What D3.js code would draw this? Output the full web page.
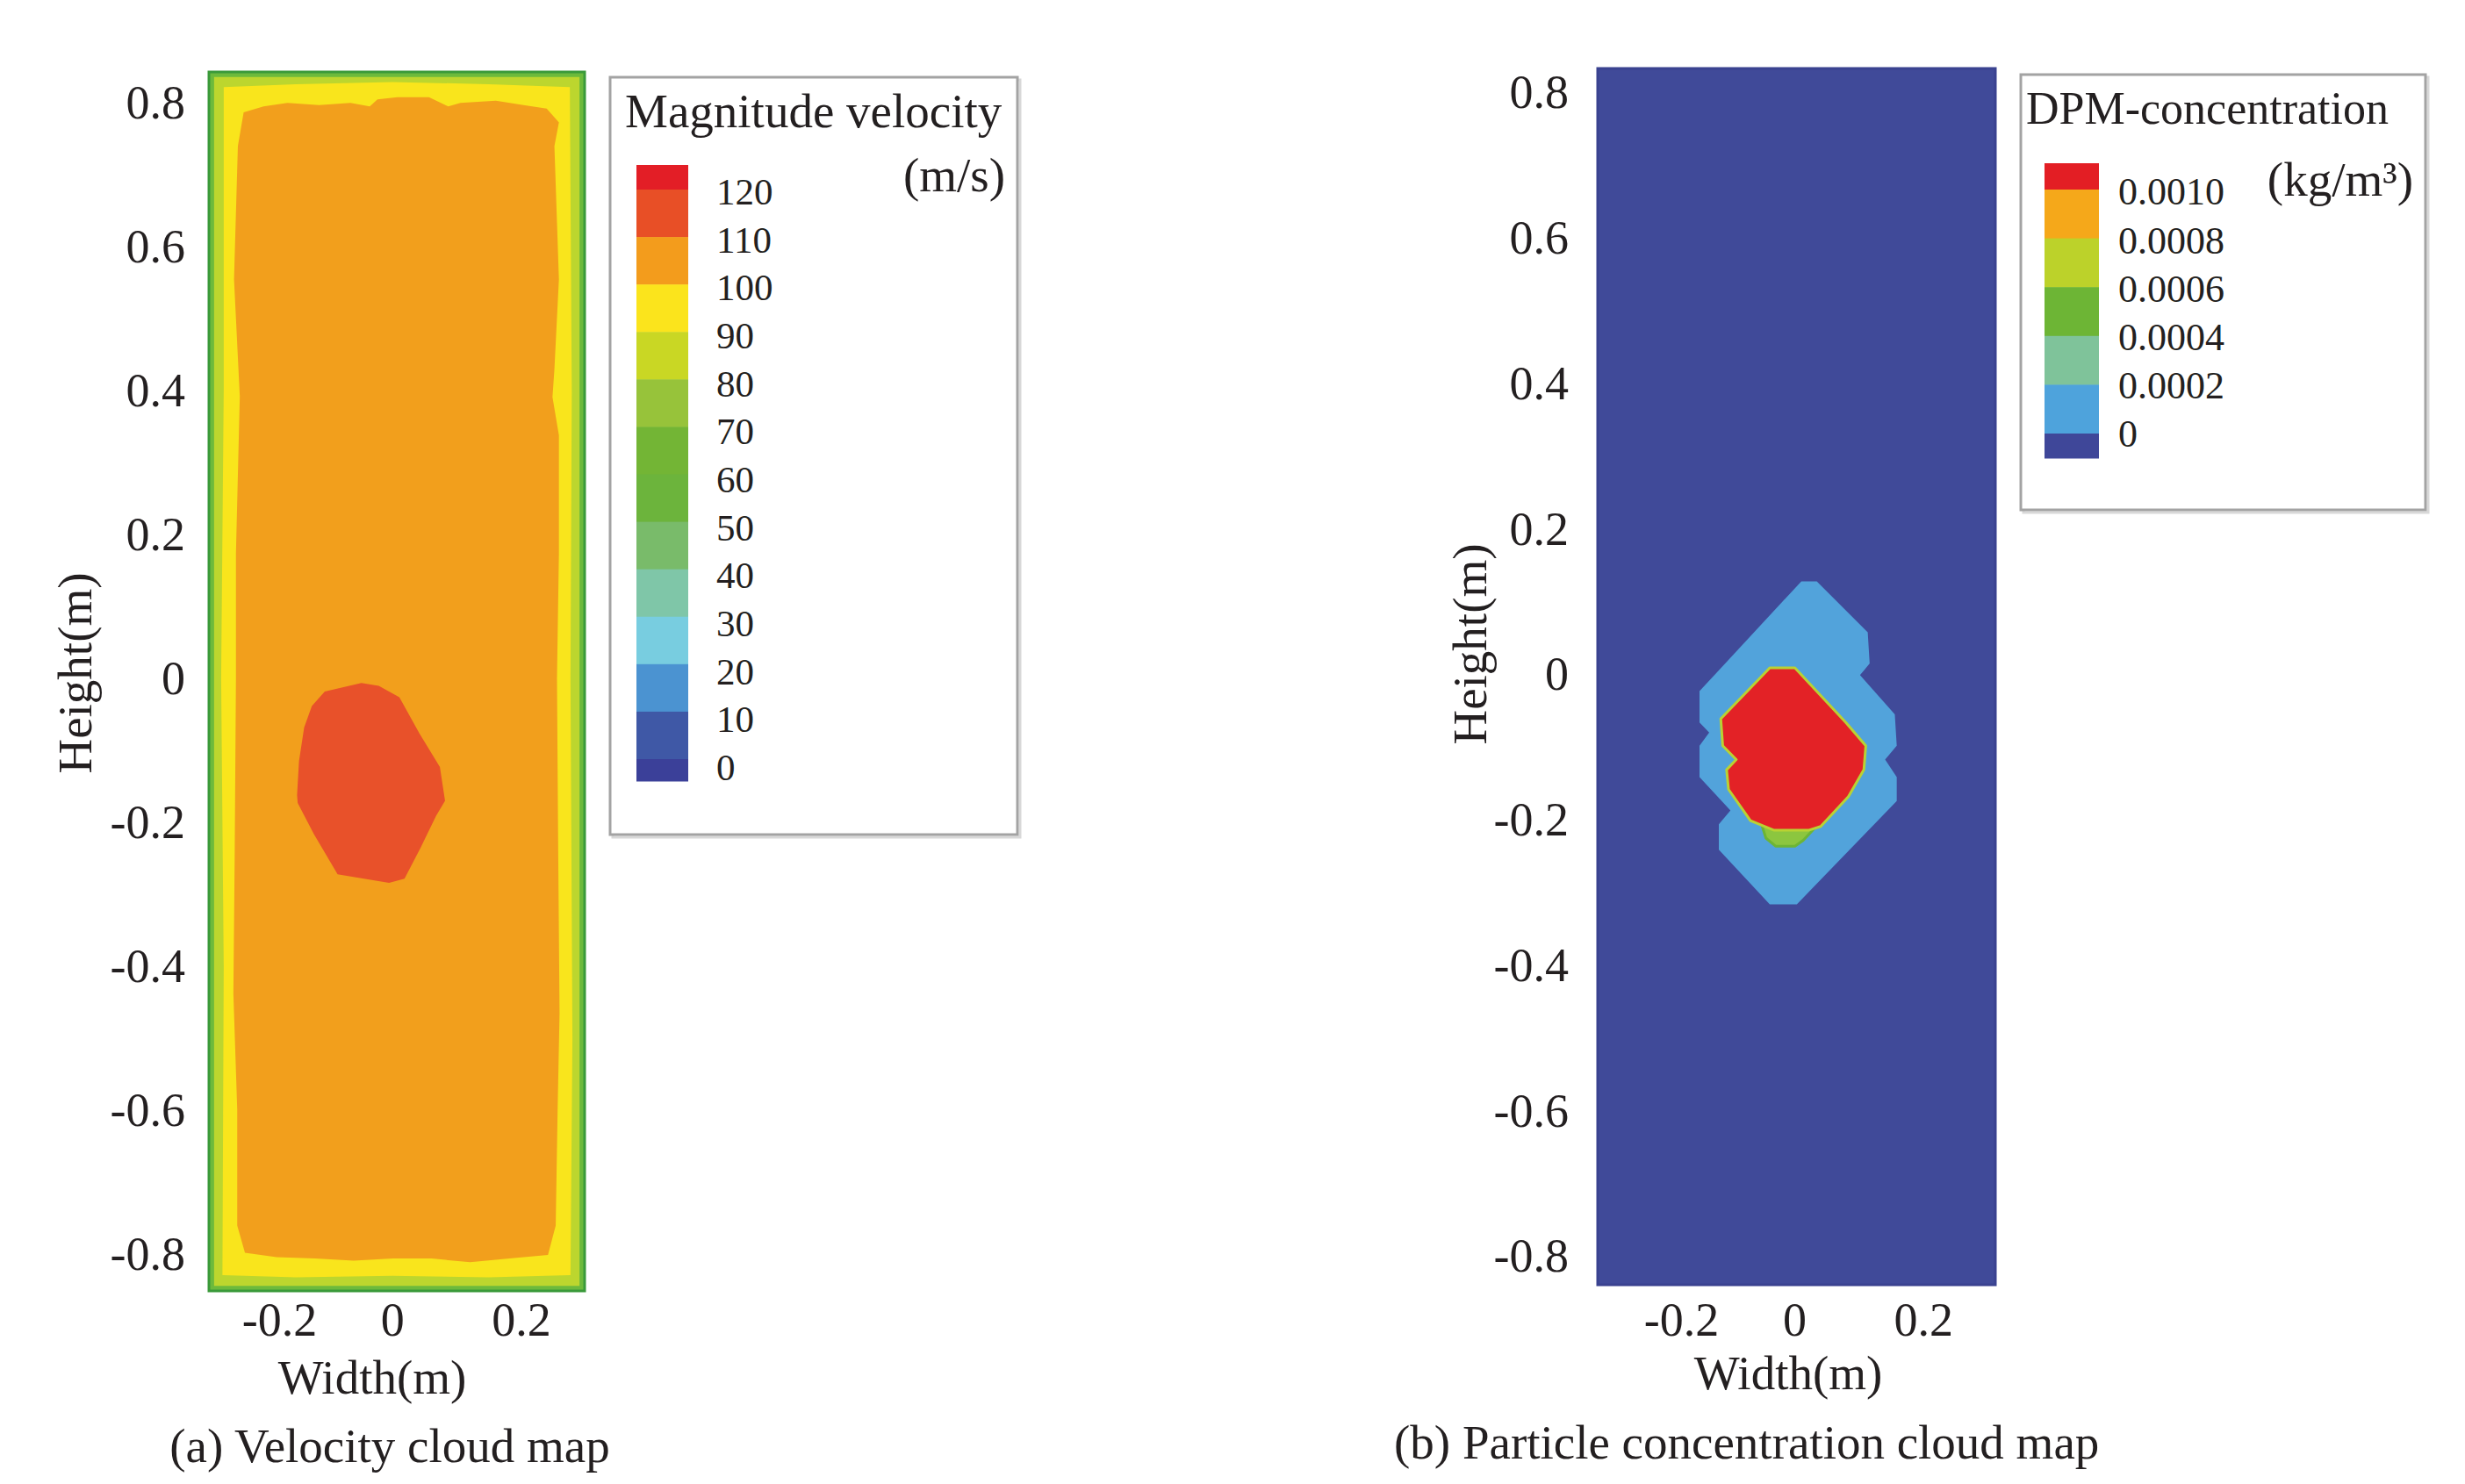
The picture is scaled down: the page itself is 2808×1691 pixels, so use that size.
<!DOCTYPE html>
<html>
<head>
<meta charset="utf-8">
<script src="https://cdn.jsdelivr.net/npm/d3@7"></script>
<style>
  body { margin: 0; background: #fff; }
  svg text { font-family: "Liberation Serif", "Times New Roman", serif; fill: #231f20; }
</style>
</head>
<body>
<div id="chart"></div>
<script>
// ---- data ----
var xTicks = [-0.2, 0, 0.2];
var yTicks = [0.8, 0.6, 0.4, 0.2, 0, -0.2, -0.4, -0.6, -0.8];

// velocity legend (top -> bottom)
var velocityLabels = [120, 110, 100, 90, 80, 70, 60, 50, 40, 30, 20, 10, 0];
var velocityColors = ["#e31e26", "#e84f26", "#f39c1c", "#fbe41c", "#c9d724", "#97c33a", "#73b535",
                      "#6cb43c", "#79bb6a", "#7fc6a8", "#78cde0", "#4b93d1", "#3f58a6", "#3b4099"];

// concentration legend (top -> bottom)
var concLabels = ["0.0010", "0.0008", "0.0006", "0.0004", "0.0002", "0"];
var concColors = ["#e31e24", "#f5a81a", "#bcd22a", "#6db535", "#7fc39a", "#4ea3dc", "#3f4799"];

// velocity field contours [width, height] in m
var velocityGreen = [[-0.277, 0.836], [0.291, 0.836], [0.291, -0.844], [-0.277, -0.844]];
var velocityYellow = [[-0.262, 0.822], [-0.15, 0.826], [0, 0.829], [0.15, 0.826], [0.276, 0.822],
    [0.279, 0.4], [0.277, 0.0], [0.280, -0.5], [0.277, -0.829], [0.15, -0.832], [0, -0.830],
    [-0.15, -0.832], [-0.264, -0.829], [-0.262, -0.4], [-0.266, 0.0], [-0.262, 0.4]];
var velocityCore = [[-0.231, 0.787], [-0.200, 0.795], [-0.163, 0.800], [-0.114, 0.797], [-0.065, 0.800],
    [-0.035, 0.795], [-0.023, 0.805], [0.008, 0.808], [0.057, 0.808], [0.087, 0.795], [0.106, 0.800],
    [0.161, 0.803], [0.204, 0.797], [0.240, 0.792], [0.259, 0.773],
    [0.252, 0.740], [0.259, 0.555], [0.252, 0.430], [0.249, 0.391], [0.259, 0.338], [0.259, 0.174],
    [0.256, 0.0], [0.258, -0.25], [0.260, -0.465], [0.257, -0.599], [0.254, -0.760], [0.242, -0.801],
    [0.182, -0.806], [0.121, -0.811], [0.061, -0.806], [0.001, -0.806], [-0.060, -0.809],
    [-0.120, -0.806], [-0.180, -0.804], [-0.229, -0.798], [-0.241, -0.760],
    [-0.241, -0.599], [-0.247, -0.438], [-0.245, -0.25], [-0.243, 0.0], [-0.243, 0.174],
    [-0.237, 0.392], [-0.246, 0.555], [-0.240, 0.740]];
var velocityBlob = [[-0.048, -0.006], [-0.021, -0.010], [0.011, -0.026], [0.042, -0.076], [0.074, -0.123],
    [0.082, -0.170], [0.068, -0.191], [0.044, -0.235], [0.019, -0.278], [-0.005, -0.284],
    [-0.085, -0.272], [-0.122, -0.216], [-0.147, -0.173], [-0.148, -0.162], [-0.145, -0.115],
    [-0.137, -0.068], [-0.125, -0.038], [-0.105, -0.018]];

// particle concentration contours
var concHalo = [[0.011, 0.128], [0.035, 0.128], [0.114, 0.058], [0.117, 0.015], [0.102, -0.001],
    [0.156, -0.055], [0.159, -0.098], [0.141, -0.117], [0.159, -0.141], [0.159, -0.174],
    [0.004, -0.316], [-0.038, -0.316], [-0.117, -0.241], [-0.117, -0.206], [-0.099, -0.187],
    [-0.147, -0.141], [-0.147, -0.098], [-0.132, -0.080], [-0.147, -0.066], [-0.147, -0.023]];
var concRim = [[-0.050, -0.208], [0.035, -0.208], [0.014, -0.228], [0.001, -0.236], [-0.029, -0.236], [-0.044, -0.225]];
var concCore = [[-0.038, 0.009], [0.001, 0.009], [0.080, -0.066], [0.111, -0.098], [0.108, -0.131],
    [0.084, -0.168], [0.041, -0.209], [0.023, -0.214], [-0.032, -0.214], [-0.068, -0.201],
    [-0.102, -0.158], [-0.105, -0.131], [-0.090, -0.117], [-0.111, -0.098], [-0.114, -0.061]];

// ---- drawing ----
var W = 2808, H = 1691;
var svg = d3.select("#chart").append("svg")
    .attr("width", W)
    .attr("height", H);

var tickFont = 54;

function drawPanel(opt) {
    var x = d3.scaleLinear().domain(opt.xDomain).range(opt.xRange);
    var y = d3.scaleLinear().domain(opt.yDomain).range(opt.yRange);
    var g = svg.append("g");

    var line = d3.line()
        .x(function(d) { return x(d[0]); })
        .y(function(d) { return y(d[1]); })
        .curve(d3.curveLinearClosed);

    g.append("rect")
        .attr("x", x(opt.xDomain[0]))
        .attr("y", y(opt.yDomain[1]))
        .attr("width", x(opt.xDomain[1]) - x(opt.xDomain[0]))
        .attr("height", y(opt.yDomain[0]) - y(opt.yDomain[1]))
        .attr("fill", opt.background)
        .attr("stroke", opt.border)
        .attr("stroke-width", 3);

    opt.layers.forEach(function(l) {
        g.append("path")
            .attr("d", line(l.points))
            .attr("fill", l.fill)
            .attr("stroke", l.stroke || "none")
            .attr("stroke-width", l.strokeWidth || 0)
            .attr("stroke-linejoin", "round");
    });

    var yAxis = d3.axisLeft(y)
        .tickValues(yTicks)
        .tickSize(0)
        .tickPadding(opt.yPad)
        .tickFormat(function(d) { return String(d); });
    var ya = g.append("g")
        .attr("transform", "translate(" + opt.xRange[0] + ",0)")
        .call(yAxis);
    ya.select(".domain").remove();
    ya.selectAll("text")
        .attr("font-size", tickFont)
        .attr("font-family", "Liberation Serif")
        .attr("fill", "#231f20");

    var xAxis = d3.axisBottom(x)
        .tickValues(xTicks)
        .tickSize(0)
        .tickPadding(opt.xPad)
        .tickFormat(function(d) { return String(d); });
    var xa = g.append("g")
        .attr("transform", "translate(0," + opt.yRange[0] + ")")
        .call(xAxis);
    xa.select(".domain").remove();
    xa.selectAll("text")
        .attr("font-size", tickFont)
        .attr("font-family", "Liberation Serif")
        .attr("fill", "#231f20")
        .attr("dx", function(d) { return d < 0 ? "0.33em" : 0; });

    g.append("text")
        .attr("x", opt.xTitle[0])
        .attr("y", opt.xTitle[1])
        .attr("text-anchor", "middle")
        .attr("font-size", 55)
        .text("Width(m)");

    g.append("text")
        .attr("transform", "translate(" + opt.yTitle[0] + "," + opt.yTitle[1] + ") rotate(-90)")
        .attr("text-anchor", "middle")
        .attr("font-size", 55)
        .text("Height(m)");

    g.append("text")
        .attr("x", opt.caption[0])
        .attr("y", opt.caption[1])
        .attr("text-anchor", opt.captionAnchor)
        .attr("font-size", 55)
        .text(opt.captionText);
}

function drawLegend(opt) {
    var g = svg.append("g");
    g.append("rect")
        .attr("x", opt.box[0] + 3).attr("y", opt.box[1] + 3)
        .attr("width", opt.box[2]).attr("height", opt.box[3])
        .attr("fill", "none").attr("stroke", "#d8d8d8").attr("stroke-width", 3);
    g.append("rect")
        .attr("x", opt.box[0]).attr("y", opt.box[1])
        .attr("width", opt.box[2]).attr("height", opt.box[3])
        .attr("fill", "#fff").attr("stroke", "#a3a3a3").attr("stroke-width", 3);

    var n = opt.labels.length;
    var bY = d3.scaleLinear().domain([0, n - 1]).range(opt.bounds);
    var lY = d3.scaleLinear().domain([0, n - 1]).range(opt.labelRange);

    g.selectAll("rect.seg")
        .data(opt.colors)
        .enter().append("rect")
        .attr("class", "seg")
        .attr("x", opt.barX)
        .attr("width", opt.barW)
        .attr("y", function(d, i) { return i === 0 ? opt.barTop : bY(i - 1); })
        .attr("height", function(d, i) {
            var top = i === 0 ? opt.barTop : bY(i - 1);
            var bot = i === n ? opt.barBottom : bY(i);
            return bot - top + 0.5;
        })
        .attr("fill", function(d) { return d; });

    g.selectAll("text.lab")
        .data(opt.labels)
        .enter().append("text")
        .attr("class", "lab")
        .attr("x", opt.labelX)
        .attr("y", function(d, i) { return lY(i); })
        .attr("dy", "0.35em")
        .attr("font-size", opt.labelFont)
        .text(function(d) { return d; });

    g.append("text")
        .attr("x", opt.title[0]).attr("y", opt.title[1])
        .attr("font-size", opt.titleFont)
        .text(opt.titleText);
    g.append("text")
        .attr("x", opt.unit[0]).attr("y", opt.unit[1])
        .attr("text-anchor", "end")
        .attr("font-size", 55)
        .text(opt.unitText);
}

// (a) velocity
drawPanel({
    xDomain: [-0.285, 0.299], xRange: [238, 666],
    yDomain: [-0.851, 0.843], yRange: [1471, 82],
    background: "#6cba3c", border: "#3a9a3a",
    layers: [
        { points: velocityGreen, fill: "#bcd62e" },
        { points: velocityYellow, fill: "#f9e51c" },
        { points: velocityCore, fill: "#f29f1c" },
        { points: velocityBlob, fill: "#e8512a" }
    ],
    yPad: 27, xPad: 13,
    xTitle: [424, 1588], yTitle: [104, 767],
    caption: [444, 1666], captionAnchor: "middle",
    captionText: "(a) Velocity cloud map"
});

// (b) particle concentration
drawPanel({
    xDomain: [-0.305, 0.312], xRange: [1820, 2273],
    yDomain: [-0.839, 0.833], yRange: [1464, 78],
    background: "#404a99", border: "#3a4290",
    layers: [
        { points: concHalo, fill: "#52a3db" },
        { points: concRim, fill: "#8cc63f", stroke: "#6db535", strokeWidth: 3 },
        { points: concCore, fill: "#e32226", stroke: "#b9d233", strokeWidth: 3 }
    ],
    yPad: 33, xPad: 20,
    xTitle: [2037, 1583], yTitle: [1693, 734],
    caption: [1588, 1662], captionAnchor: "start",
    captionText: "(b) Particle concentration cloud map"
});

drawLegend({
    box: [695, 88, 464, 863],
    colors: velocityColors, labels: velocityLabels,
    barX: 725, barW: 59, barTop: 188, barBottom: 890,
    bounds: [216, 865], labelRange: [218, 874],
    labelX: 816, labelFont: 43,
    title: [712, 145], titleFont: 55, titleText: "Magnitude velocity",
    unit: [1145, 218], unitText: "(m/s)"
});

drawLegend({
    box: [2302, 85, 461, 496],
    colors: concColors, labels: concLabels,
    barX: 2329, barW: 62, barTop: 186, barBottom: 522,
    bounds: [216, 494], labelRange: [218, 494],
    labelX: 2413, labelFont: 44,
    title: [2308, 141], titleFont: 52, titleText: "DPM-concentration",
    unit: [2749, 223], unitText: "(kg/m³)"
});
</script>
</body>
</html>
